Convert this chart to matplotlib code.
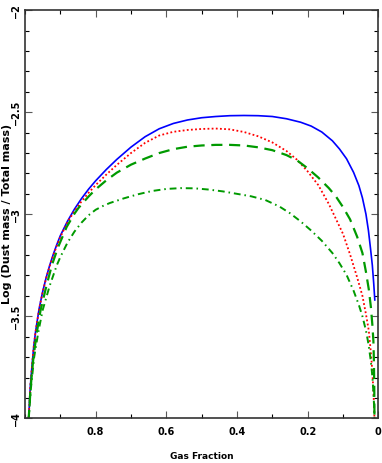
import matplotlib
matplotlib.use("Agg")
import matplotlib.pyplot as plt
from matplotlib.ticker import MultipleLocator

# gas fraction / log(dust mass / total mass)
solid_x = [0.993, 0.9895, 0.985, 0.98, 0.975, 0.97, 0.96, 0.95, 0.94, 0.93, 0.92, 0.91, 0.90,
           0.88, 0.86, 0.84, 0.82, 0.80, 0.77, 0.74, 0.70, 0.66, 0.62, 0.58, 0.54, 0.50, 0.46,
           0.42, 0.38, 0.34, 0.30, 0.26, 0.22, 0.19, 0.16, 0.13, 0.11, 0.09, 0.07, 0.055, 0.045,
           0.035, 0.028, 0.022, 0.017, 0.013, 0.010]
solid_y = [-4.10, -4.00, -3.846, -3.74, -3.645, -3.575, -3.463, -3.38, -3.31, -3.25, -3.197, -3.149, -3.105,
           -3.035, -2.975, -2.923, -2.877, -2.836, -2.781, -2.731, -2.671, -2.620, -2.581, -2.555, -2.538, -2.527, -2.521,
           -2.517, -2.516, -2.517, -2.521, -2.532, -2.549, -2.568, -2.597, -2.64, -2.68, -2.728, -2.795, -2.86, -2.92,
           -3.00, -3.08, -3.17, -3.25, -3.34, -3.42]

dotted_x = [0.993, 0.9895, 0.985, 0.98, 0.975, 0.97, 0.96, 0.95, 0.94, 0.93, 0.92, 0.91, 0.90,
            0.88, 0.86, 0.84, 0.82, 0.80, 0.77, 0.74, 0.70, 0.66, 0.62, 0.58, 0.54, 0.50, 0.46,
            0.42, 0.38, 0.34, 0.30, 0.26, 0.23, 0.20, 0.17, 0.14, 0.12, 0.10, 0.08, 0.06, 0.045,
            0.035, 0.027, 0.021, 0.017, 0.014, 0.012, 0.010]
dotted_y = [-4.10, -4.00, -3.846, -3.74, -3.645, -3.575, -3.465, -3.383, -3.313, -3.254, -3.202, -3.155, -3.112,
            -3.04, -2.984, -2.937, -2.895, -2.857, -2.806, -2.758, -2.70, -2.65, -2.614, -2.596, -2.587, -2.582, -2.580,
            -2.584, -2.597, -2.618, -2.648, -2.69, -2.733, -2.79, -2.857, -2.95, -3.023, -3.096, -3.197, -3.309, -3.40,
            -3.49, -3.57, -3.68, -3.77, -3.863, -3.95, -4.05]

dashed_x = [0.993, 0.9895, 0.984, 0.976, 0.967, 0.956, 0.940, 0.924, 0.906, 0.882, 0.86, 0.849,
            0.82, 0.80, 0.77, 0.74, 0.70, 0.66, 0.62, 0.58, 0.54, 0.50, 0.46, 0.42, 0.38, 0.34,
            0.30, 0.26, 0.23, 0.20, 0.17, 0.14, 0.12, 0.10, 0.08, 0.06, 0.045, 0.035, 0.027, 0.021,
            0.017, 0.014, 0.0125, 0.0115, 0.011, 0.0105]
dashed_y = [-4.10, -4.00, -3.85, -3.70, -3.585, -3.471, -3.356, -3.25, -3.16, -3.062, -2.997, -2.970,
            -2.913, -2.878, -2.834, -2.796, -2.757, -2.727, -2.70, -2.681, -2.669, -2.663, -2.66, -2.66, -2.663, -2.672,
            -2.686, -2.71, -2.736, -2.775, -2.82, -2.872, -2.913, -2.965, -3.025, -3.11, -3.19, -3.283, -3.368, -3.456,
            -3.54, -3.62, -3.72, -3.85, -3.99, -4.10]

dashdot_x = [0.993, 0.9895, 0.983, 0.974, 0.963, 0.958, 0.95, 0.94, 0.93, 0.92, 0.91, 0.90,
             0.88, 0.86, 0.84, 0.82, 0.80, 0.78, 0.76, 0.72, 0.68, 0.64, 0.60, 0.56, 0.52, 0.48, 0.44,
             0.40, 0.36, 0.32, 0.28, 0.25, 0.22, 0.19, 0.16, 0.13, 0.11, 0.09, 0.07, 0.055, 0.045,
             0.035, 0.028, 0.022, 0.017, 0.014, 0.012, 0.010]
dashdot_y = [-4.10, -4.00, -3.85, -3.70, -3.585, -3.54, -3.47, -3.41, -3.35, -3.30, -3.25, -3.21,
             -3.14, -3.085, -3.041, -3.005, -2.978, -2.96, -2.945, -2.922, -2.902, -2.886, -2.876, -2.872, -2.873, -2.879, -2.888,
             -2.90, -2.912, -2.93, -2.962, -2.995, -3.035, -3.08, -3.13, -3.19, -3.24, -3.297, -3.375, -3.445, -3.50,
             -3.57, -3.635, -3.71, -3.79, -3.87, -3.94, -4.05]

x_ticks = [0.8, 0.6, 0.4, 0.2, 0.0]
x_labels = ["0.8", "0.6", "0.4", "0.2", "0"]
y_ticks = [-4, -3.5, -3, -2.5, -2]
y_labels = ["\u22124", "\u22123.5", "\u22123", "\u22122.5", "\u22122"]

narrow = ["Liberation Sans Narrow", "DejaVu Sans"]
plt.rcParams["font.family"] = "DejaVu Sans"
plt.rcParams["font.weight"] = "bold"

fig = plt.figure(figsize=(3.82, 4.63), dpi=100)
ax = fig.add_axes([0.0654, 0.0965, 0.925, 0.8815])

ax.plot(solid_x, solid_y, color="#0000ff", lw=1.2)
ax.plot(dotted_x, dotted_y, color="#ff0000", lw=1.3, linestyle=(0, (1, 1.3)))
ax.plot(dashed_x, dashed_y, color="#009a00", lw=1.6, linestyle=(0, (5, 3)))
ax.plot(dashdot_x, dashdot_y, color="#009a00", lw=1.4, linestyle=(0, (3.5, 2, 0.8, 2)))

ax.set_xlim(1.0, 0.0)
ax.set_ylim(-4, -2)

ax.set_xticks(x_ticks)
ax.set_xticklabels(x_labels, fontsize=7, fontweight="bold", family=narrow)
ax.set_yticks(y_ticks)
ax.set_yticklabels(y_labels, fontsize=7, fontweight="bold", family=narrow, rotation=90, va="center")
ax.xaxis.set_minor_locator(MultipleLocator(0.1))
ax.yaxis.set_minor_locator(MultipleLocator(0.1))
ax.tick_params(which="both", direction="in", top=True, right=True, width=0.8)
ax.tick_params(which="major", length=5, color="0.35", pad=6)
ax.tick_params(which="minor", length=3, color="black")
ax.tick_params(axis="y", which="major", pad=3)

for s in ax.spines.values():
    s.set_linewidth(1.2)
    s.set_color("0.2")

ax.set_xlabel("Gas Fraction", fontsize=6.5, fontweight="bold", family=narrow, labelpad=11)
ax.set_ylabel("Log (Dust mass / Total mass)", fontsize=8, fontweight="bold")
ax.yaxis.set_label_coords(-0.036, 0.5)

fig.savefig("out.png", dpi=100)
